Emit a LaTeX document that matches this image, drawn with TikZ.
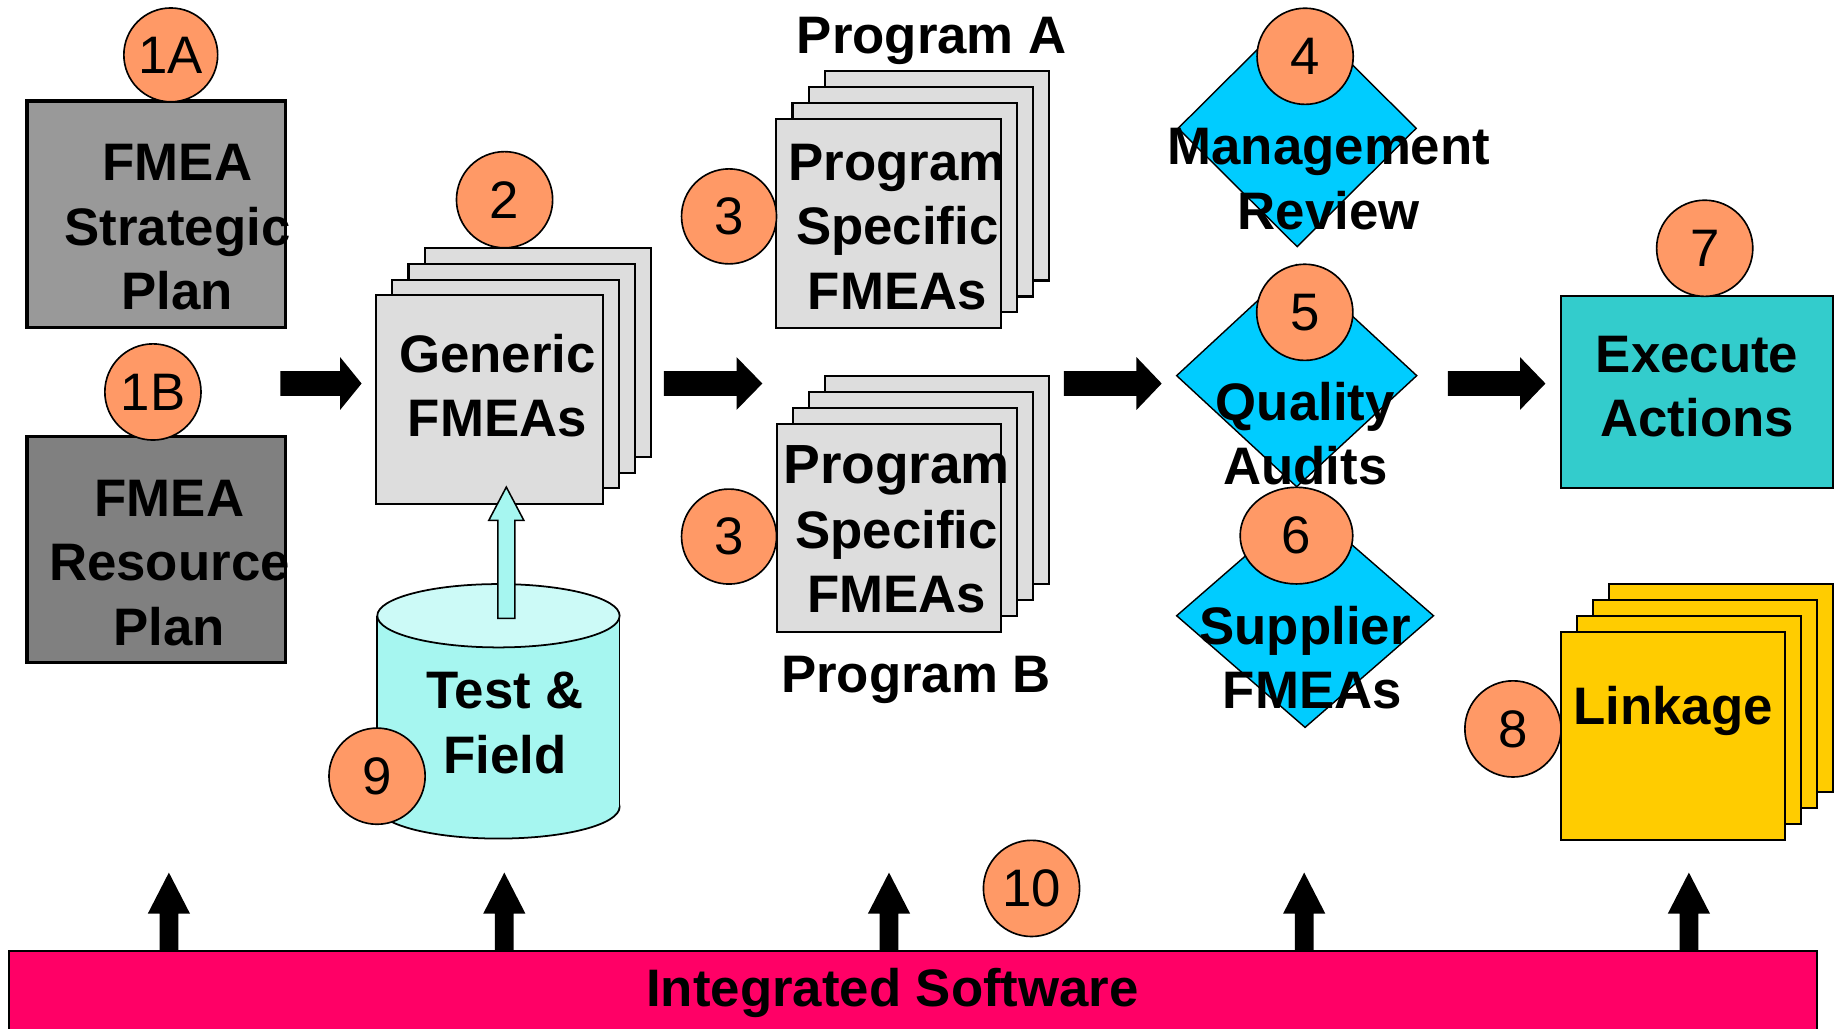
\documentclass[tikz,border=0pt]{standalone}
\usepackage{graphicx}
\usepackage{fontspec}
\setmainfont{Liberation Sans}
\usetikzlibrary{shapes.geometric,calc}
\definecolor{numfill}{HTML}{FF9966}
\definecolor{gray1}{HTML}{999999}
\definecolor{gray2}{HTML}{808080}
\definecolor{pagegray}{HTML}{DDDDDD}
\definecolor{cylbody}{HTML}{A6F6F0}
\definecolor{cyltop}{HTML}{CCFAF7}
\definecolor{dia}{HTML}{00CCFF}
\definecolor{execfill}{HTML}{33CCCC}
\definecolor{linkfill}{HTML}{FFCC00}
\definecolor{barfill}{HTML}{FF0066}
\newcommand\lblfont{\bfseries\fontsize{45}{55}\selectfont}
\newcommand\numfont{\fontsize{45}{55}\selectfont}
\newcommand\pagestack[8]{%
  \foreach \k in {3,2,1} {\node[pg, fill=#8, minimum width=#4, minimum height=#5] (#1b\k) at ({#2+\k*#6},{#3+\k*#7}) {};}
  \node[pg, fill=#8, minimum width=#4, minimum height=#5] (#1) at (#2,#3) {};}
\newcommand\rblock[3]{%
  \fill[black] let \p1=(#1), \p2=(#2) in
    (\x1,\y1+10.5pt) -- (\x2-#3pt,\y1+10.5pt) -- (\x2-#3pt,\y1+22.5pt) -- (\x2,\y1)
    -- (\x2-#3pt,\y1-22.5pt) -- (\x2-#3pt,\y1-10.5pt) -- (\x1,\y1-10.5pt) -- cycle;}
\newcommand\ublock[2]{%
  \fill[black] let \p1=(#1), \p2=(#2) in
    (\x1-8pt,\y1) -- (\x1-8pt,\y2-35pt) -- (\x1-18pt,\y2-35pt) -- (\x1,\y2)
    -- (\x1+18pt,\y2-35pt) -- (\x1+8pt,\y2-35pt) -- (\x1+8pt,\y1) -- cycle;}
\begin{document}
\begin{tikzpicture}[x=1pt,y=-1pt,
  numc/.style={circle, draw=black, line width=1.4, fill=numfill, inner sep=0, outer sep=0, font=\numfont},
  lbl/.style={font=\lblfont, align=center, inner sep=0, outer sep=0},
  pg/.style={rectangle, draw=black, line width=1.8, inner sep=0, outer sep=0},
  plan/.style={rectangle, draw=black, line width=2.8, inner sep=0, outer sep=0},
  dmd/.style={diamond, draw=black, line width=1.2, fill=dia, inner sep=0, outer sep=0}]
\useasboundingbox (0,0) rectangle (1568,877);

% plans
\node[plan, fill=gray1, minimum width=220.7, minimum height=193.3] (sp) at (133.25,182.75) {};
\node[plan, fill=gray2, minimum width=220.7, minimum height=192.7] (rp) at (133.25,468.65) {};

% stacks
\pagestack{gen}{417.45}{340.8}{193.1}{178}{13.7}{-13.4}{pagegray}
\pagestack{pa}{757.75}{190.85}{191.5}{178.3}{13.7}{-13.6}{pagegray}
\pagestack{pb}{757.85}{450.05}{191.3}{177.1}{13.7}{-13.6}{pagegray}
\pagestack{lk}{1426.5}{627.35}{191}{177.3}{13.7}{-13.6}{linkfill}

% cylinder
\filldraw[fill=cylbody, draw=black, line width=1.5] (425,688) ellipse [x radius=103.3, y radius=27];
\fill[cylbody] (321.7,525) rectangle (528.3,688);
\draw[line width=1.5] (321.7,525) -- (321.7,688) (528.3,525) -- (528.3,688);
\filldraw[fill=cyltop, draw=black, line width=1.5] (425,525) ellipse [x radius=103.3, y radius=27];
\coordinate (lfs) at (431.7,527.2);
\coordinate (lfe) at (431.7,415.3);
\filldraw[fill=cylbody, draw=black, line width=1.3] let \p1=(lfs), \p2=(lfe) in
  (\x1-7.2pt,\y1) -- (\x1-7.2pt,\y2-28.3pt) -- (\x1-14.9pt,\y2-28.3pt) -- (\x1,\y2)
  -- (\x1+14.9pt,\y2-28.3pt) -- (\x1+7.2pt,\y2-28.3pt) -- (\x1+7.2pt,\y1) -- cycle;

% diamonds
\node[dmd, minimum width=203, minimum height=201.8] (d4) at (1106,109.4) {};
\node[dmd, minimum width=204.7, minimum height=189.4] (d5) at (1105.6,320.3) {};
\node[dmd, minimum width=219, minimum height=190.4] (d6) at (1112.75,525) {};

% execute
\node[pg, fill=execfill, minimum width=232.2, minimum height=163.5] (ex) at (1446.9,334.25) {};

% bar
\node[pg, fill=barfill, minimum width=1541, minimum height=69] (bar) at (778.5,845.5) {};

% right block arrows
\coordinate (r1s) at (239,327);   \coordinate (r1e) at (308.3,327);
\coordinate (r2s) at (566,327);   \coordinate (r2e) at (650,327);
\coordinate (r3s) at (907,327);   \coordinate (r3e) at (990.5,327);
\coordinate (r4s) at (1234.6,327);\coordinate (r4e) at (1317.7,327);
\rblock{r1s}{r1e}{18.3}
\rblock{r2s}{r2e}{22}
\rblock{r3s}{r3e}{21.5}
\rblock{r4s}{r4e}{21.7}

% up arrows from bar
\foreach \i/\xx in {1/144,2/430,3/758,4/1112,5/1440} {
  \coordinate (u\i s) at (\xx,811);
  \coordinate (u\i e) at (\xx,744);
  \ublock{u\i s}{u\i e}
}

% number circles
\node[numc, minimum size=80] (n1a) at (145.6,46.8) {1A};
\node[numc, minimum size=82] (n1b) at (130.4,334.2) {1B};
\node[numc, minimum size=82] (n2) at (430.2,170.3) {2};
\node[numc, minimum size=81] (n3a) at (621.6,184.5) {3};
\node[numc, minimum size=81] (n3b) at (621.6,457.5) {3};
\node[numc, minimum size=82] (n4) at (1112.8,48) {4};
\node[numc, minimum size=82] (n5) at (1112.5,266.3) {5};
\node[numc, ellipse, minimum width=96, minimum height=82.4] (n6) at (1105.4,456.7) {6};
\node[numc, minimum size=82] (n7) at (1453.5,211.7) {7};
\node[numc, minimum size=82] (n8) at (1290,621.5) {8};
\node[numc, minimum size=82] (n9) at (321.5,661.8) {9};
\node[numc, minimum size=82] (n10) at (879.5,757.5) {10};

% labels
\node[lbl] (t1a) at (151.3,194) {FMEA\\Strategic\\Plan};
\node[lbl] (t1b) at (144.5,480) {FMEA\\Resource\\Plan};
\node[lbl] (tgen) at (424,329) {Generic\\FMEAs};
\node[lbl] (tpa) at (765,193.5) {Program\\Specific\\FMEAs};
\node[lbl] (tpb) at (764.5,451.4) {\scalebox{1.045}{Program}\\Specific\\FMEAs};
\node[lbl, anchor=base] (lpa) at (794.4,46) {Program A};
\node[lbl, anchor=base] (lpb) at (781,590.3) {Program B};
\node[lbl] (tmr) at (1133,152.5) {Management\\Review};
\node[lbl] (tqa) at (1113,369.7) {Quality\\Audits};
\node[lbl] (tsf) at (1112.7,560.9) {Supplier\\\hspace*{12.6pt}FMEAs};
\node[lbl] (tex) at (1447,329.5) {Execute\\Actions};
\node[lbl, anchor=base] (tlk) at (1426.5,617.5) {Linkage};
\node[lbl] (ttf) at (430.7,616.4) {Test \&\\Field};
\node[lbl, anchor=base] (tis) at (761,858.5) {Integrated Software};
\end{tikzpicture}
\end{document}
